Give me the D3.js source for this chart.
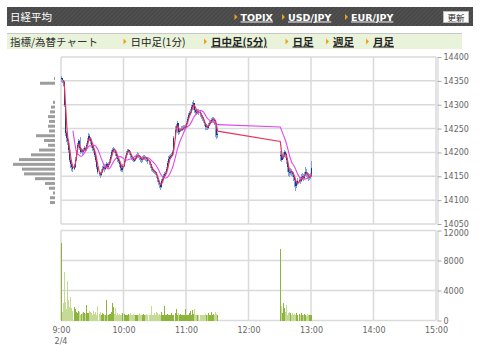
<!DOCTYPE html>
<html>
<head>
<meta charset="utf-8">
<script src="https://cdn.jsdelivr.net/npm/d3@7"></script>
<style>
  body { margin: 0; background: #fff; }
  svg { display: block; }
</style>
</head>
<body>
<svg id="chart" width="480" height="363"></svg>
<script>
// ---------- data ----------
const tradeDay = "2015-02-04";
const amStart = "09:00";
const pmStart = "12:30";

// 1-minute bars, morning session 9:00-11:30
const amClose = [
  14355,14352,14348,14300,14240,14230,14225,14205,14185,14175,
  14170,14165,14170,14185,14200,14215,14225,14210,14200,14205,
  14200,14205,14210,14205,14215,14225,14235,14230,14225,14215,
  14210,14205,14195,14185,14170,14160,14155,14152,14160,14165,
  14170,14165,14170,14175,14170,14175,14180,14190,14200,14205,
  14208,14205,14198,14192,14186,14183,14176,14168,14163,14172,
  14182,14190,14198,14203,14205,14200,14195,14190,14188,14185,
  14184,14188,14192,14195,14194,14190,14186,14184,14187,14190,
  14191,14188,14186,14182,14180,14175,14168,14163,14162,14160,
  14158,14152,14145,14138,14133,14128,14140,14145,14150,14154,
  14156,14165,14178,14187,14190,14192,14194,14200,14230,14248,
  14256,14261,14243,14245,14248,14250,14250,14252,14254,14254,
  14262,14270,14278,14282,14285,14296,14300,14303,14289,14285,
  14283,14286,14285,14280,14277,14273,14268,14262,14254,14255,
  14252,14258,14262,14264,14268,14270,14271,14266,14260,14236,
  14238
];
const amHigh = [
  14360,14356,14352,14350,14300,14245,14235,14228,14208,14190,
  14180,14172,14175,14190,14205,14220,14228,14226,14232,14210,
  14207,14210,14214,14212,14220,14230,14240,14238,14232,14226,
  14216,14212,14206,14196,14186,14172,14162,14158,14165,14172,
  14175,14172,14175,14180,14178,14180,14186,14195,14205,14210,
  14212,14210,14206,14200,14194,14188,14185,14178,14170,14176,
  14186,14195,14202,14207,14208,14206,14202,14196,14192,14190,
  14188,14192,14197,14200,14198,14195,14190,14188,14192,14194,
  14195,14193,14190,14187,14184,14182,14176,14170,14166,14164,
  14162,14160,14153,14146,14140,14135,14145,14150,14155,14158,
  14162,14170,14182,14192,14195,14196,14198,14205,14235,14255,
  14260,14266,14262,14250,14252,14255,14256,14257,14258,14260,
  14266,14274,14282,14286,14290,14300,14305,14310,14304,14292,
  14290,14290,14290,14287,14282,14278,14274,14268,14262,14260,
  14258,14262,14266,14268,14272,14275,14275,14273,14268,14262,
  14242
];
const amLow = [
  14348,14346,14340,14295,14235,14222,14215,14198,14180,14168,
  14162,14160,14163,14168,14183,14198,14212,14205,14196,14198,
  14194,14198,14203,14200,14204,14214,14222,14224,14218,14210,
  14204,14198,14190,14180,14165,14155,14150,14147,14150,14157,
  14163,14160,14163,14168,14165,14168,14174,14178,14188,14198,
  14200,14198,14192,14186,14180,14178,14170,14162,14158,14160,
  14170,14180,14188,14195,14198,14195,14189,14185,14183,14180,
  14179,14182,14186,14190,14188,14184,14180,14178,14180,14185,
  14185,14183,14180,14176,14174,14168,14162,14158,14156,14154,
  14152,14146,14138,14132,14126,14122,14126,14138,14143,14148,
  14150,14154,14163,14176,14184,14187,14189,14192,14198,14228,
  14244,14240,14236,14238,14242,14244,14245,14246,14248,14249,
  14252,14260,14268,14275,14280,14283,14293,14288,14282,14280,
  14278,14280,14279,14275,14271,14266,14262,14255,14248,14248,
  14246,14250,14256,14259,14262,14264,14264,14258,14232,14228,
  14230
];
const amVolume = [
  10300,1200,2300,6500,2450,1500,5300,2700,1800,3100,
  1650,1300,1780,1560,1200,1020,1300,1100,800,890,
  1000,1200,1020,900,2090,1000,1020,1300,1200,1020,
  800,1330,900,1100,800,1910,900,1200,700,1020,
  900,760,700,2670,800,670,900,890,1200,2360,
  1780,900,1650,800,1020,700,900,760,800,1020,
  900,760,760,700,890,800,1020,700,800,890,
  700,670,800,760,700,1020,700,670,800,850,
  700,670,890,700,760,800,1870,700,800,1020,
  700,1200,1020,700,890,800,1100,760,700,2000,
  800,700,890,760,800,700,1020,760,700,1020,
  1560,800,1020,700,890,800,760,700,670,1560,
  800,760,700,1020,1330,800,1420,900,1560,760,
  700,670,760,700,760,670,700,760,890,700,
  670,1000,760,700,1100,700,900,670,1100,890,
  700
];

// afternoon session 12:30-13:00
const pmClose = [
  14195,14185,14190,14192,14200,14196,14185,14170,14160,14156,
  14162,14158,14155,14148,14142,14130,14135,14140,14142,14140,
  14148,14150,14146,14152,14160,14156,14152,14146,14148,14150,
  14168
];
const pmHigh = [
  14202,14198,14196,14200,14206,14204,14198,14188,14172,14165,
  14168,14166,14162,14158,14150,14145,14140,14146,14148,14146,
  14154,14156,14154,14158,14170,14165,14158,14156,14154,14156,
  14182
];
const pmLow = [
  14183,14180,14184,14186,14190,14188,14176,14160,14150,14148,
  14152,14150,14148,14140,14128,14120,14126,14132,14136,14134,
  14138,14142,14140,14144,14150,14148,14144,14140,14142,14144,
  14148
];
const pmVolume = [
  9600,1870,990,2400,1650,1070,2090,760,990,1200,
  990,760,990,760,890,760,1000,700,890,760,
  1000,800,700,890,760,600,890,760,700,800,
  760
];

// volume-by-price profile on the left
const profileLevels = [14355,14345,14305,14295,14285,14275,14265,14255,14245,14235,14225,14215,
  14205,14195,14185,14175,14165,14155,14145,14135,14125,14115,14105,14095];
const profileVolume = [1,15,2,4,5,7,6,7,6,19,11,7,16,24,36,42,33,31,20,10,6,2,5,5];

const priceTicks = [14050,14100,14150,14200,14250,14300,14350,14400];
const volumeTicks = [0,4000,8000,12000];
const hourTicks = ["09:00","10:00","11:00","12:00","13:00","14:00","15:00"];
const dateLabel = "2/4";

const headerTitle = "日経平均";
const headerLinks = ["TOPIX","USD/JPY","EUR/JPY"];
const menuTitle = "指標/為替チャート";
const menuItems = ["日中足(1分)","日中足(5分)","日足","週足","月足"];

// ---------- setup ----------
const svg = d3.select("#chart");
const parseT = d3.timeParse("%Y-%m-%d %H:%M");
const at = s => parseT(tradeDay + " " + s);

const x = d3.scaleTime().domain([at("09:00"), at("15:00")]).range([61, 436]);
const yP = d3.scaleLinear().domain([14050, 14400]).range([224, 57]);
const yV = d3.scaleLinear().domain([0, 12000]).range([320.5, 230.5]);

function session(start, close, high, low, vol) {
  const t0 = at(start);
  return close.map((c, i) => ({
    t: d3.timeMinute.offset(t0, i),
    o: i > 0 ? close[i - 1] : c,
    h: high[i], l: low[i], c: c, v: vol[i]
  }));
}
const bars = session(amStart, amClose, amHigh, amLow, amVolume)
  .concat(session(pmStart, pmClose, pmHigh, pmLow, pmVolume));

function movingAvg(vals, n) {
  return vals.map((v, i) => i < n - 1 ? null : d3.mean(vals.slice(i - n + 1, i + 1)));
}
const closes = bars.map(d => d.c);
const maShort = movingAvg(closes, 3);
const maLong = movingAvg(closes, 12);

const cjk = "'Noto Sans CJK JP', sans-serif";
const axisFont = "'DejaVu Sans', sans-serif";

// ---------- header ----------
const defs = svg.append("defs");
const pat = defs.append("pattern").attr("id", "stripe")
  .attr("width", 3).attr("height", 3).attr("patternUnits", "userSpaceOnUse")
  .attr("patternTransform", "rotate(45)");
pat.append("rect").attr("width", 3).attr("height", 3).attr("fill", "#505050");
pat.append("rect").attr("width", 1).attr("height", 3).attr("fill", "#444");

svg.append("rect").attr("x", 7).attr("y", 7).attr("width", 466).attr("height", 19).attr("fill", "url(#stripe)");
svg.append("text").attr("x", 10).attr("y", 20.5).text(headerTitle)
  .attr("fill", "#fff").style("font-family", cjk).style("font-size", "10.5px");

function arrow(g, ax, cy) {
  g.append("path").attr("d", `M${ax},${cy - 3}L${ax + 3},${cy}L${ax},${cy + 3}Z`).attr("fill", "#f0a020");
}
const linkX = [240.5, 288, 351];
headerLinks.forEach((s, i) => {
  arrow(svg, linkX[i] - 6, 17);
  svg.append("text").attr("x", linkX[i]).attr("y", 20.5).text(s)
    .attr("fill", "#fff").style("font-family", "'DejaVu Sans', sans-serif")
    .style("font-size", "9.5px").style("font-weight", "bold").style("text-decoration", "underline");
});
svg.append("rect").attr("x", 443.5).attr("y", 11.5).attr("width", 25).attr("height", 11)
  .attr("fill", "#fafafa").attr("stroke", "#bbb");
svg.append("text").attr("x", 456).attr("y", 20.5).attr("text-anchor", "middle").text("更新")
  .attr("fill", "#222").style("font-family", cjk).style("font-size", "8.5px");

// menu row
svg.append("rect").attr("x", 7).attr("y", 33).attr("width", 455).attr("height", 16).attr("fill", "#e8f3da");
svg.append("line").attr("x1", 7).attr("x2", 462).attr("y1", 33.5).attr("y2", 33.5).attr("stroke", "#c8c8c8");
svg.append("text").attr("x", 10).attr("y", 45.5).text(menuTitle)
  .attr("fill", "#333").style("font-family", cjk).style("font-size", "10.5px");
const menuX = [130.5, 211, 292.5, 333, 373];
menuItems.forEach((s, i) => {
  arrow(svg, menuX[i] - 7, 41.5);
  const sel = i === 0;
  svg.append("text").attr("x", menuX[i]).attr("y", 45.5).text(s)
    .attr("fill", "#222").style("font-family", cjk).style("font-size", "10.5px")
    .style("font-weight", sel ? "normal" : "bold")
    .style("text-decoration", sel ? "none" : "underline");
});

// ---------- grids ----------
const grid = svg.append("g").attr("stroke", "#dadada").attr("stroke-width", 1.5);
hourTicks.forEach(h => {
  const xx = x(at(h));
  grid.append("line").attr("x1", xx).attr("x2", xx).attr("y1", yP(14400)).attr("y2", yP(14050));
  grid.append("line").attr("x1", xx).attr("x2", xx).attr("y1", yV(12000)).attr("y2", yV(0));
});
priceTicks.forEach(p => {
  grid.append("line").attr("x1", x(at("09:00"))).attr("x2", x(at("15:00"))).attr("y1", yP(p)).attr("y2", yP(p));
});
volumeTicks.forEach(v => {
  grid.append("line").attr("x1", x(at("09:00"))).attr("x2", x(at("15:00"))).attr("y1", yV(v)).attr("y2", yV(v));
});

// ---------- axes ----------
function styleAxis(g) {
  g.selectAll("text").attr("fill", "#666").style("font-family", axisFont).style("font-size", "8px");
  g.selectAll("line").attr("stroke", "#aaa");
  g.select(".domain").attr("stroke", "#ccc");
}
svg.append("g").attr("transform", "translate(437.5,0)")
  .call(d3.axisRight(yP).tickValues(priceTicks).tickFormat(d3.format("d")).tickSize(4).tickPadding(2).tickSizeOuter(0))
  .call(styleAxis);
const vAxis = svg.append("g").attr("transform", "translate(437.5,0)")
  .call(d3.axisRight(yV).tickValues(volumeTicks).tickFormat(d3.format("d")).tickSize(4).tickPadding(2).tickSizeOuter(0))
  .call(styleAxis);
// the 12000 label sits just under 14050, as in the original
vAxis.selectAll(".tick text").filter(d => d === 12000).attr("dy", "0.62em");
const xAxis = svg.append("g").attr("transform", "translate(0,322)")
  .call(d3.axisBottom(x).tickValues(hourTicks.map(at)).tickFormat(d3.timeFormat("%-H:%M")).tickSize(0).tickPadding(5))
  .call(styleAxis);
xAxis.select(".domain").remove();
svg.append("text").attr("x", x(at("09:00"))).attr("y", 344).attr("text-anchor", "middle").text(dateLabel)
  .attr("fill", "#666").style("font-family", axisFont).style("font-size", "8px");

// ---------- price profile ----------
const profW = d3.scaleLinear().domain([0, d3.max(profileVolume)]).range([0, 42]);
svg.append("g").selectAll("rect").data(profileLevels).join("rect")
  .attr("x", (d, i) => 55 - profW(profileVolume[i]))
  .attr("y", d => yP(d) - 1.5)
  .attr("width", (d, i) => profW(profileVolume[i]))
  .attr("height", 3)
  .attr("fill", "#9d9d9d");

// ---------- candles ----------
const px = d => Math.round(x(d.t));
const cg = svg.append("g").attr("shape-rendering", "crispEdges");
cg.selectAll("line").data(bars).join("line")
  .attr("x1", d => px(d) + 0.5).attr("x2", d => px(d) + 0.5)
  .attr("y1", d => yP(Math.max(d.h, d.o, d.c)))
  .attr("y2", d => yP(Math.min(d.l, d.o, d.c)))
  .attr("stroke", "#7da5dc").attr("stroke-width", 1);
cg.selectAll("rect").data(bars).join("rect")
  .attr("x", d => px(d))
  .attr("y", d => yP(Math.max(d.o, d.c)))
  .attr("width", 1)
  .attr("height", d => Math.max(1, Math.abs(yP(d.o) - yP(d.c))))
  .attr("fill", "#1f358c");

// ---------- moving averages ----------
const maLine = arr => d3.line()
  .defined((d, i) => arr[i] !== null)
  .x(d => x(d.t) + 0.5)
  .y((d, i) => yP(arr[i]));
svg.append("path").datum(bars).attr("d", maLine(maLong))
  .attr("fill", "none").attr("stroke", "#e046f0").attr("stroke-width", 1.1);
svg.append("path").datum(bars).attr("d", maLine(maShort))
  .attr("fill", "none").attr("stroke", "#e8365e").attr("stroke-width", 1.2);

// ---------- volume ----------
svg.append("g").attr("shape-rendering", "crispEdges")
  .selectAll("rect").data(bars).join("rect")
  .attr("x", d => px(d))
  .attr("y", d => yV(d.v))
  .attr("width", 1)
  .attr("height", d => yV(0) - yV(d.v))
  .attr("fill", d => d.c >= d.o ? "#8db43c" : "#c5da94");
</script>
</body>
</html>
